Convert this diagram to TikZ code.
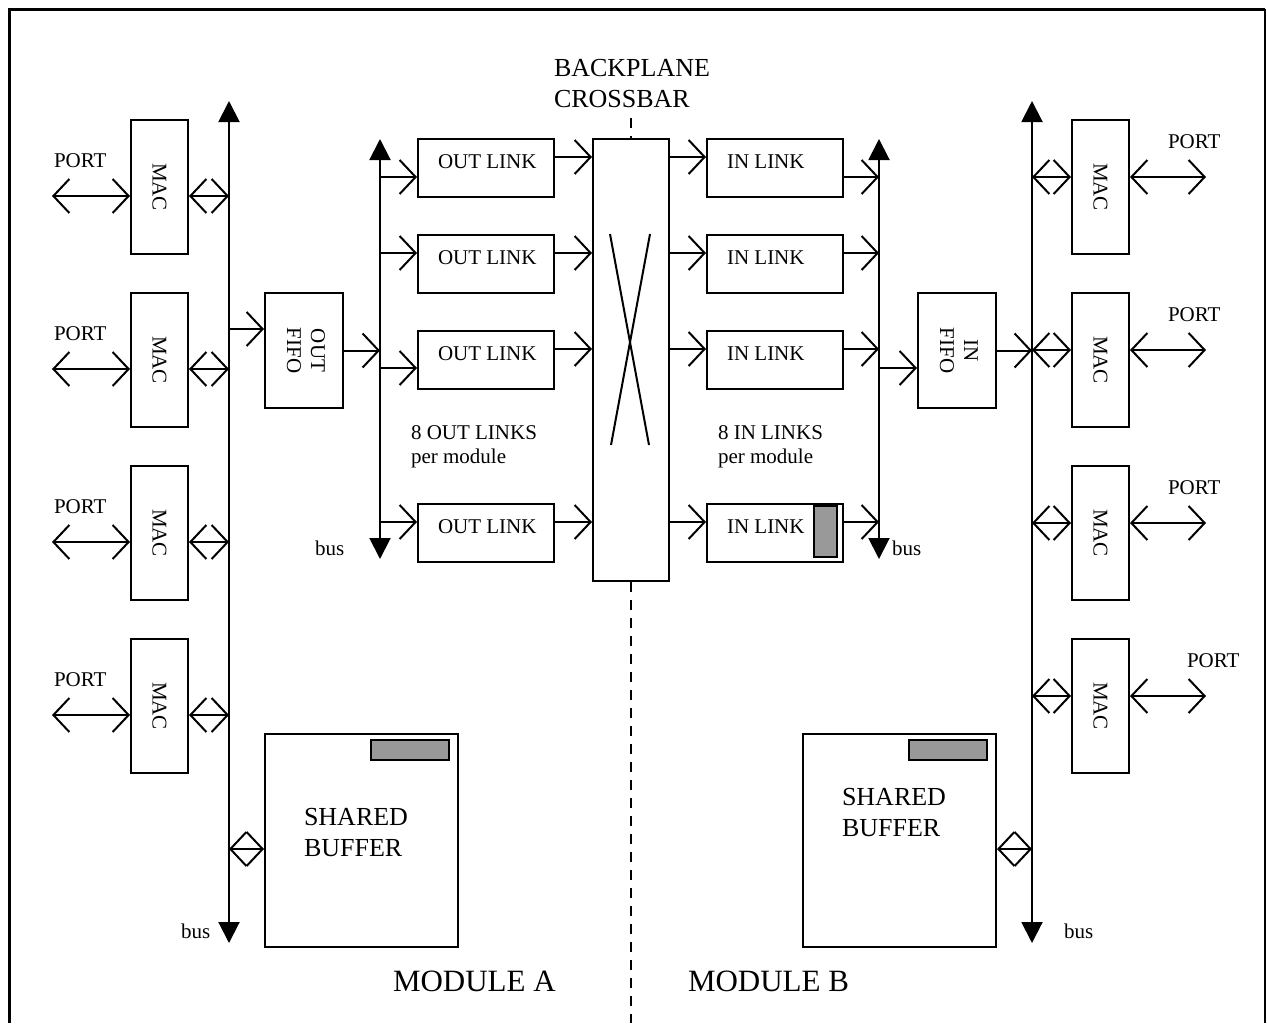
\documentclass[tikz,border=0pt]{standalone}
\usepackage{fontspec}
\setmainfont{Liberation Serif}
\usetikzlibrary{arrows.meta}

\begin{document}
\begin{tikzpicture}[x=0.5pt,y=-0.5pt,line width=1pt,
    >={Straight Barb[length=8pt,width=17pt]},
    font=\fontsize{10.5pt}{12pt}\selectfont,
    box/.style={draw,inner sep=0pt,anchor=north west},
    macbox/.style={box,minimum width=28.5pt,minimum height=67pt},
    fifobox/.style={box,minimum width=39pt,minimum height=57.5pt},
    linkbox/.style={box,minimum width=68pt,minimum height=29pt,text height=5pt,text depth=5pt},
    bufbox/.style={box,minimum width=96.5pt,minimum height=106.5pt},
    bar/.style={draw,fill=black!40,line width=0.9pt},
    busln/.style={arrows={Triangle[length=10.5pt,width=10.5pt]-Triangle[length=10.5pt,width=10.5pt]}},
    sep/.style={line width=1.3pt,dash pattern=on 5pt off 4pt},
    big/.style={font=\fontsize{13pt}{15.5pt}\selectfont,align=left,inner sep=0pt,anchor=north west},
    txt/.style={inner sep=0pt,anchor=base west}]
        \useasboundingbox (0,0) rectangle (1267,1023);
        \draw[line width=1.5pt] (9,1023) -- (9,9) -- (1265,9);
        \draw[line width=1pt] (1265,9) -- (1265,1023);

        \coordinate (busAtop) at (229,101);
        \coordinate (busAbot) at (229,943);
        \draw[busln] (busAbot) -- (busAtop);
        \foreach \i/\y in {1/119,2/292,3/465,4/638} {
            \node[macbox] (macA\i) at (130,\y) {\rotatebox{-90}{MAC}};
            \node[txt] (portA\i) at (53,\y+48) {PORT};
            \coordinate (pA\i) at (52,\y+77);
            \draw[<->] (pA\i) -- (pA\i -| macA\i.west);
            \draw[<->] (pA\i -| macA\i.east) -- (pA\i -| busAtop);
          }
        \node[fifobox] (fifoA) at (264,292) {\rotatebox{-90}{\begin{tabular}{@{}c@{}}OUT\\FIFO\end{tabular}}};
        \coordinate (fA) at (229,329);
        \draw[->] (fA) -- (fA -| fifoA.west);
        \coordinate (obTop) at (380,139);
        \coordinate (obBot) at (380,559);
        \draw[busln] (obBot) -- (obTop);
        \draw[->] (fifoA.east) -- (fifoA.east -| obTop);
        \node[txt] (busOut) at (314,555) {bus};

        \node[box,minimum width=38pt,minimum height=221pt] (xbar) at (592,138) {};
        \draw (610,234) -- (649,445);
        \draw (650,234) -- (611,445);
        \coordinate (dTop) at (630,118);
        \coordinate (dBot) at (630,1023);
        \draw[sep] (xbar.north |- dTop) -- (xbar.north);
        \draw[sep] (xbar.south) -- (xbar.south |- dBot);
        \node[big] (bpl) at (553,58) {BACKPLANE\\CROSSBAR};

        \coordinate (ibTop) at (879,139);
        \coordinate (ibBot) at (879,559);
        \draw[busln] (ibBot) -- (ibTop);
        \node[txt] (busIn) at (891,555) {bus};
        \foreach \i/\y/\a/\b/\c in {1/138/177/157/177,2/234/253/253/253,3/330/368/349/349,4/503/522/522/522} {
            \node[linkbox] (outL\i) at (417,\y) {\makebox[48pt][l]{OUT LINK}};
            \node[linkbox] (inL\i) at (706,\y) {\makebox[48pt][l]{IN LINK}};
            \coordinate (ob\i) at (380,\a);
            \coordinate (row\i) at (0,\b);
            \coordinate (ib\i) at (879,\c);
            \draw[->] (ob\i) -- (ob\i -| outL\i.west);
            \draw[->] (outL\i.east |- row\i) -- (xbar.west |- row\i);
            \draw[->] (xbar.east |- row\i) -- (inL\i.west |- row\i);
            \draw[->] (inL\i.east |- ib\i) -- (ib\i);
          }
        \draw[bar] (814,506) rectangle (837,557);
        \node[big,font=\fontsize{10.5pt}{12pt}\selectfont] (nOut) at (410,425) {8 OUT LINKS\\per module};
        \node[big,font=\fontsize{10.5pt}{12pt}\selectfont] (nIn) at (717,425) {8 IN LINKS\\per module};

        \node[fifobox] (fifoB) at (917,292) {\rotatebox{-90}{\begin{tabular}{@{}c@{}}IN\\FIFO\end{tabular}}};
        \coordinate (fB) at (879,368);
        \draw[->] (fB) -- (fB -| fifoB.west);
        \coordinate (busBtop) at (1032,101);
        \coordinate (busBbot) at (1032,943);
        \draw[busln] (busBbot) -- (busBtop);
        \draw[->] (fifoB.east) -- (fifoB.east -| busBtop);
        \foreach \i/\y/\px in {1/119/1167,2/292/1167,3/465/1167,4/638/1186} {
            \node[macbox] (macB\i) at (1071,\y) {\rotatebox{-90}{MAC}};
            \node[txt] (portB\i) at (\px,\y+29) {PORT};
            \coordinate (pB\i) at (1206,\y+58);
            \draw[<->] (pB\i -| busBtop) -- (pB\i -| macB\i.west);
            \draw[<->] (pB\i -| macB\i.east) -- (pB\i);
          }

        \node[bufbox] (bufA) at (264,733) {};
        \draw[bar] (371,740) rectangle (449,760);
        \node[big] (sbA) at (303,807) {SHARED\\BUFFER};
        \coordinate (bA) at (229,849);
        \draw[<->] (bA) -- (bA -| bufA.west);
        \node[txt] (busA) at (180,938) {bus};
        \node[bufbox] (bufB) at (802,733) {};
        \draw[bar] (909,740) rectangle (987,760);
        \node[big] (sbB) at (841,787) {SHARED\\BUFFER};
        \coordinate (bB) at (1032,849);
        \draw[<->] (bufB.east |- bB) -- (bB);
        \node[txt] (busB) at (1063,938) {bus};

        \node[txt,font=\fontsize{15.5pt}{18pt}\selectfont] (modA) at (392,991) {MODULE A};
        \node[txt,font=\fontsize{15.5pt}{18pt}\selectfont] (modB) at (687,991) {MODULE B};
      \end{tikzpicture}
\end{document}
